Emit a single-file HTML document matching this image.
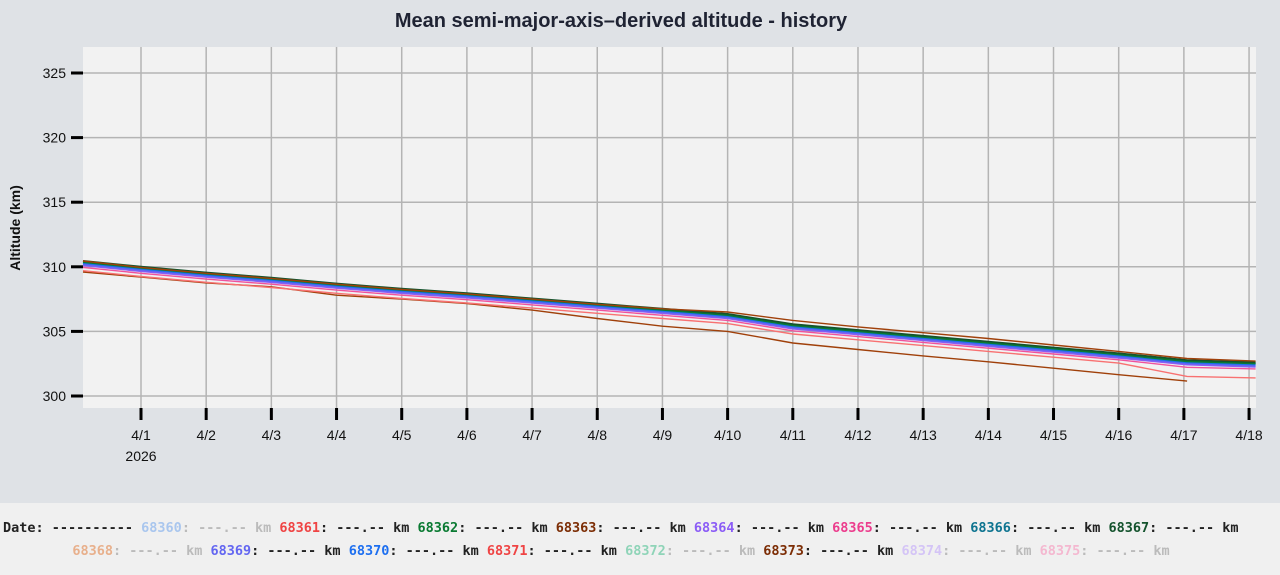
<!DOCTYPE html>
<html><head><meta charset="utf-8"><style>
html,body{margin:0;padding:0;width:1280px;height:575px;overflow:hidden;background:#dfe2e6;font-family:"Liberation Sans","DejaVu Sans",sans-serif}
.leg{position:absolute;left:0;top:503px;width:1280px;height:72px;background:#f0f0f0;font-family:"DejaVu Sans Mono",monospace;font-weight:bold;font-size:13.5px;color:#222;white-space:pre}
.r1{position:absolute;left:3px;top:17px}
.r2{position:absolute;left:0;width:1242px;text-align:center;top:40px}
.g{color:#bbb}
</style></head><body>
<svg width="1280" height="503" style="position:absolute;left:0;top:0" id="s" font-family="Liberation Sans, DejaVu Sans, sans-serif">
<text x="621" y="27" text-anchor="middle" font-size="20" font-weight="bold" fill="#1f2333">Mean semi-major-axis–derived altitude - history</text>
<rect x="83" y="47" width="1173" height="361" fill="#f2f2f2"/>
<g id="grid" stroke="#b4b4b4" stroke-width="1.5"></g>
<g id="ax"></g>
<g id="lines" fill="none" stroke-width="1.4"></g>
<text transform="translate(20,228) rotate(-90)" text-anchor="middle" font-size="14" font-weight="bold" fill="#111">Altitude (km)</text>
<text x="141" y="461" text-anchor="middle" font-size="14" fill="#111">2026</text>
</svg>
<div class="leg"><div class="r1">Date: ---------- <span style="color:#a9c6ee">68360</span><span class="g">: ---.-- km</span> <span style="color:#ef4444">68361</span>: ---.-- km <span style="color:#0a7a32">68362</span>: ---.-- km <span style="color:#7c2d05">68363</span>: ---.-- km <span style="color:#8b5cf6">68364</span>: ---.-- km <span style="color:#ec3d8d">68365</span>: ---.-- km <span style="color:#0e7490">68366</span>: ---.-- km <span style="color:#14532d">68367</span>: ---.-- km</div>
<div class="r2"><span style="color:#e8b08c">68368</span><span class="g">: ---.-- km</span> <span style="color:#6366f1">68369</span>: ---.-- km <span style="color:#1d6ff0">68370</span>: ---.-- km <span style="color:#ef4444">68371</span>: ---.-- km <span style="color:#8fd4b8">68372</span><span class="g">: ---.-- km</span> <span style="color:#7c2d05">68373</span>: ---.-- km <span style="color:#d4c4f6">68374</span><span class="g">: ---.-- km</span> <span style="color:#f4b8d0">68375</span><span class="g">: ---.-- km</span></div></div>
<script>
var NS="http://www.w3.org/2000/svg";
function el(p,t,a,txt){var e=document.createElementNS(NS,t);for(var k in a)e.setAttribute(k,a[k]);if(txt)e.textContent=txt;p.appendChild(e);return e;}
var X=function(d){return 141+d*65.18};var Y=function(v){return 396-(v-300)*12.92};
var g=document.getElementById('grid'),ax=document.getElementById('ax'),L=document.getElementById('lines');
for(var v=300;v<=325;v+=5){var y=Y(v);el(g,'line',{x1:83,x2:1256,y1:y,y2:y});el(ax,'line',{x1:71,x2:83,y1:y,y2:y,stroke:'#000','stroke-width':3});el(ax,'text',{x:66,y:y+5,'text-anchor':'end','font-size':14,fill:'#111'},String(v));}
for(var d=0;d<=17;d++){var x=X(d);el(g,'line',{x1:x,x2:x,y1:47,y2:408});el(ax,'line',{x1:x,x2:x,y1:408,y2:420,stroke:'#000','stroke-width':3});el(ax,'text',{x:x,y:440,'text-anchor':'middle','font-size':14,fill:'#111'},'4/'+(d+1));}
function path(pts,c,w){var s='';pts.forEach(function(p,i){s+=(i?'L':'M')+X(p[0]).toFixed(1)+','+Y(p[1]).toFixed(1)});el(L,'path',{d:s,stroke:c,'stroke-width':w||1.4});}
function base(off,t1,t2){return [[-0.89,310.3+off],[0,309.85+off],[1,309.4+off],[2,309.0+off],[3,308.55+off],[4,308.15+off],[5,307.8+off],[6,307.4+off],[7,307.0+off],[8,306.6+off],[9,306.2+off],[10,305.4+off],[11,304.95+off],[12,304.5+off],[13,304.05+off],[14,303.6+off],[15,303.15+off],[16.05,302.62+off+(t1||0)],[17.1,302.45+off+(t2||0)]];}
path([[-0.89,309.6],[0,309.2],[1,308.75],[2,308.45],[3,307.8],[4,307.5],[5,307.15],[6,306.65],[7,306.0],[8,305.4],[9,305.0],[10,304.1],[11,303.6],[12,303.1],[13,302.65],[14,302.15],[15,301.65],[16.05,301.15]],'#a0400a');
path(base(-0.6,-0.5,-0.45),'#f87171');
path(base(-0.35,-0.05,-0.0),'#f0529c');
path(base(-0.2),'#8b5cf6',1.6);
path(base(-0.1),'#6366f1',2);
path(base(0),'#1d6ff0',2.2);
path(base(0.1),'#0e7490',1.6);
path(base(0.15),'#14532d',2);
path(base(0.05),'#0a7a32',1.4);
path([[-0.89,310.45],[0,309.95],[1,309.5],[2,309.1],[3,308.65],[4,308.25],[5,307.9],[6,307.5],[7,307.1],[8,306.75],[9,306.5],[10,305.85],[11,305.35],[12,304.9],[13,304.45],[14,303.95],[15,303.45],[16.05,302.9],[17.1,302.7]],'#a0400a');
</script>
</body></html>
